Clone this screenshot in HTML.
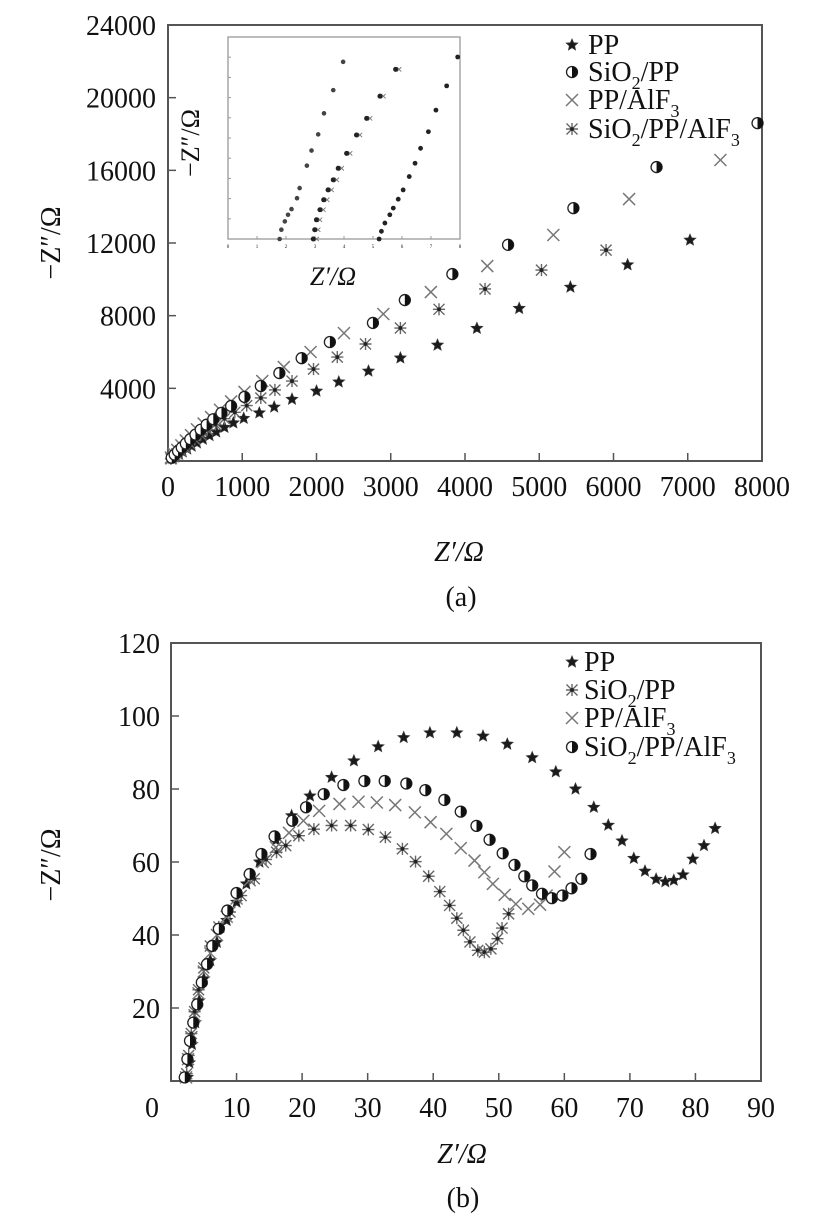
<!DOCTYPE html>
<html><head><meta charset="utf-8">
<style>
html,body{margin:0;padding:0;background:#fff;}
svg{display:block;}
text{font-family:"Liberation Serif",serif;fill:#111;}
</style></head>
<body>
<svg id="fig" width="829" height="1224" viewBox="0 0 829 1224" xmlns="http://www.w3.org/2000/svg">
<g id="pa"></g>
<g id="pb"></g>
</svg>
<script>
// ---------- Panel (a) data ----------
const aXTicks = [0,1000,2000,3000,4000,5000,6000,7000,8000];
const aYTicks = [4000,8000,12000,16000,20000,24000];
const aPPx = [60,100,150,200,260,320,390,470,560,650,760,880,1020,1230,1430,1670,2000,2300,2700,3130,3630,4160,4730,5420,6190,7030];
const aPPy = [130,240,370,500,660,820,1000,1200,1400,1600,1850,2100,2350,2650,2970,3400,3850,4350,4950,5670,6380,7300,8400,9570,10800,12160];
const aSPx = [50,90,135,185,240,300,370,440,520,610,720,850,1030,1250,1500,1800,2180,2760,3190,3830,4580,5460,6580,7940];
const aSPy = [180,350,540,740,960,1200,1450,1720,2000,2300,2650,3030,3530,4130,4840,5660,6550,7600,8860,10290,11900,13920,16180,18600];
const aPAx = [40,80,125,180,240,310,390,480,580,700,850,1030,1270,1560,1920,2370,2900,3540,4300,5190,6210,7440];
const aPAy = [190,390,610,860,1130,1420,1740,2060,2420,2820,3280,3800,4400,5170,6000,7040,8090,9300,10730,12440,14420,16570];
const aSPAx = [40,75,120,170,225,290,360,440,530,640,760,900,1060,1250,1440,1670,1960,2280,2660,3130,3650,4270,5030,5900];
const aSPAy = [120,240,400,570,760,970,1200,1450,1720,2010,2330,2680,3050,3470,3910,4400,5060,5720,6440,7320,8350,9470,10510,11610];
// inset data (inset axis units)
const inXTicks = [0,1,2,3,4,5,6,7,8];
const inYTicks = [0,1,2,3,4,5,6,7,8,9,10];
const in1x = [1.78,1.84,1.96,2.07,2.19,2.38,2.47,2.72,2.88,3.11,3.31,3.63,3.97];
const in1y = [0,0.46,0.87,1.2,1.48,2.02,2.52,3.63,4.38,5.18,6.22,7.37,8.77];
const in2x = [2.94,2.99,3.05,3.17,3.30,3.45,3.63,3.80,4.09,4.43,4.78,5.24,5.78];
const in2y = [0,0.46,0.95,1.45,1.94,2.43,2.93,3.5,4.24,5.15,5.97,7.07,8.4];
const in3x = [5.21,5.29,5.41,5.58,5.70,5.87,6.04,6.25,6.45,6.64,6.91,7.17,7.54,7.92];
const in3y = [0,0.38,0.79,1.2,1.53,1.97,2.43,3.09,3.75,4.49,5.31,6.38,7.58,9.01];
// ---------- Panel (b) data ----------
const bXTicks = [0,10,20,30,40,50,60,70,80,90];
const bYTicks = [20,40,60,80,100,120];
const bPPx = [2.5,2.8,3.2,3.7,4.3,5,6,7,8.5,10,11.5,13.5,16,18.4,21.2,24.5,27.9,31.6,35.5,39.5,43.6,47.6,51.3,55.1,58.7,61.7,64.5,66.7,68.8,70.6,72.3,74.0,75.4,76.7,78.1,79.6,81.3,83.0];
const bPPy = [1,5,10,16,22,28,33,38,44,49,54,60,66,72.7,78.1,83.2,87.7,91.6,94.1,95.4,95.4,94.5,92.3,88.6,84.7,80,75,70.1,65.8,61,57.5,55.3,54.6,55,56.5,60.8,64.5,69.2];
const bSPx = [2.4,2.7,3.1,3.6,4.2,5,6,7.3,9,10.7,12.7,14.5,16.1,17.5,19.5,21.8,24.5,27.4,30.1,32.7,35.3,37.3,39.3,41,42.5,43.6,44.6,45.6,46.8,47.8,48.8,49.8,50.5,51.5];
const bSPy = [2,7,13,19,25,31,37,42.2,46.3,50.8,55.4,60.7,62.7,64.5,67.2,69,70,70,68.9,66.8,63.6,60.1,56.1,51.9,48.1,44.6,41.3,38.1,35.8,35.3,36.2,39,41.9,45.8];
const bPAx = [2.3,2.6,3.1,3.6,4.2,5,6,7,8.5,10,12,14,16,18,20.2,22.6,25.7,28.6,31.4,34.2,37.2,39.6,42,44.2,46.3,47.8,49.1,50.9,52.6,54.5,56.3,57.3,58.5,60];
const bPAy = [1,6,12,18,24,30,35,40,45,50,55,60,64,68,71.3,74,75.9,76.5,76.3,75.6,73.6,70.9,67.7,63.8,60.4,57.2,54,51,48.5,47.2,48.3,50.8,57.4,62.7];
const bSPAx = [2.1,2.5,2.9,3.4,4,4.7,5.5,6.3,7.3,8.6,10,12,13.8,15.8,18.5,20.6,23.3,26.3,29.5,32.6,35.9,38.8,41.7,44.2,46.6,48.6,50.6,52.4,53.9,55.1,56.6,58.1,59.7,61.1,62.6,64];
const bSPAy = [1,6,11,16,21,27,32,37,41.7,46.7,51.5,56.7,62.2,67,71.3,75,78.6,81.1,82.2,82.2,81.5,79.7,77,73.8,69.9,66.1,62.4,59.2,56.1,53.6,51.3,50.1,50.8,52.8,55.4,62.2];

const NS = "http://www.w3.org/2000/svg";
function mk(parent, tag, attrs, txt){
  const e = document.createElementNS(NS, tag);
  for (const k in attrs) e.setAttribute(k, attrs[k]);
  if (txt !== undefined) e.textContent = txt;
  parent.appendChild(e); return e;
}
function star(g, x, y, s){
  let p=[];
  for(let i=0;i<10;i++){const r=i%2?s*0.45:s;const a=-Math.PI/2+i*Math.PI/5;p.push((x+r*Math.cos(a)).toFixed(1)+","+(y+r*Math.sin(a)).toFixed(1));}
  return mk(g,"polygon",{points:p.join(" "),fill:"#1a1a1a",stroke:"#333","stroke-width":0.8});
}
function half(g, x, y, r){
  const h = mk(g,"g",{});
  mk(h,"circle",{cx:x,cy:y,r:r,fill:"#fff",stroke:"#222","stroke-width":1.3});
  mk(h,"path",{d:`M${x},${y-r} A${r},${r} 0 0 1 ${x},${y+r} Z`,fill:"#111"});
  return h;
}
function cross(g, x, y, s){
  return mk(g,"path",{d:`M${x-s},${y-s}L${x+s},${y+s}M${x-s},${y+s}L${x+s},${y-s}`,stroke:"#777","stroke-width":1.5,fill:"none"});
}
function aster(g, x, y, s){
  const h = mk(g,"g",{});
  mk(h,"path",{d:`M${x-s},${y-s}L${x+s},${y+s}M${x-s},${y+s}L${x+s},${y-s}M${x},${y-s*1.1}L${x},${y+s*1.1}M${x-s*1.1},${y}L${x+s*1.1},${y}`,stroke:"#666","stroke-width":1.4,fill:"none"});
  mk(h,"circle",{cx:x,cy:y,r:s*0.35,fill:"#222"});
  return h;
}

// ---------- Panel (a) ----------
const pa = document.getElementById("pa");
const aL=168, aR=762, aT=25, aB=461;
const ax = v => aL + (v-0)/8000*(aR-aL);
const ay = v => aB - v/24000*(aB-aT);
let fr = mk(pa,"rect",{x:aL,y:aT,width:aR-aL,height:aB-aT,fill:"none",stroke:"#555","stroke-width":2});


aXTicks.forEach(t=>{
  if(t>0&&t<8000) mk(pa,"line",{x1:ax(t),x2:ax(t),y1:aB,y2:aB-8,stroke:"#555","stroke-width":1.5});
  const tx = mk(pa,"text",{x:ax(t),y:496,"font-size":28,"text-anchor":"middle"},String(t));
  
  
});
aYTicks.forEach(t=>{
  if(t<24000) mk(pa,"line",{x1:aL,x2:aL+8,y1:ay(t),y2:ay(t),stroke:"#555","stroke-width":1.5});
  const tx = mk(pa,"text",{x:156,y:ay(t)+10,"font-size":28,"text-anchor":"end"},String(t));
  
  
});
// inset
const iL=228, iR=460, iT=37, iB=239;
const ix = v => iL + v/8*(iR-iL);
const iy = v => iB - v/10*(iB-iT);
const ins = mk(pa,"g",{});


mk(ins,"rect",{x:iL,y:iT,width:iR-iL,height:iB-iT,fill:"#fff",stroke:"#999","stroke-width":1.3});
inXTicks.forEach(t=>{mk(ins,"line",{x1:ix(t),x2:ix(t),y1:iB,y2:iB-3,stroke:"#999"});mk(ins,"text",{x:ix(t),y:iB+9,"font-size":5,"text-anchor":"middle",fill:"#888"},String(t));});
inYTicks.forEach(t=>{mk(ins,"line",{x1:iL,x2:iL+3,y1:iy(t),y2:iy(t),stroke:"#999"});});
in1x.forEach((v,i)=>{const c=mk(ins,"circle",{cx:ix(v),cy:iy(in1y[i]),r:2.3,fill:"#444"});

});
in2x.forEach((v,i)=>{cross(ins,ix(v+0.12),iy(in2y[i]),2.2).setAttribute('stroke-width',0.9);
const c=mk(ins,"circle",{cx:ix(v),cy:iy(in2y[i]),r:2.5,fill:"#222"});

});
in3x.forEach((v,i)=>{const c=mk(ins,"circle",{cx:ix(v),cy:iy(in3y[i]),r:2.4,fill:"#222"});

});
let t1=mk(pa,"text",{x:333,y:285,"font-size":26,"text-anchor":"middle"},"Z′/Ω");
t1.setAttribute('font-style','italic');


let t2=mk(pa,"text",{x:0,y:0,"font-size":26,"text-anchor":"middle",transform:"translate(199,143) rotate(-90)"},"−Z″/Ω");


aPPx.forEach((v,i)=>{const m=star(pa,ax(v),ay(aPPy[i]),6);

});
aSPAx.forEach((v,i)=>{const m=aster(pa,ax(v),ay(aSPAy[i]),5.5);

});
aPAx.forEach((v,i)=>{const m=cross(pa,ax(v),ay(aPAy[i]),6);

});
aSPx.forEach((v,i)=>{const m=half(pa,ax(v),ay(aSPy[i]),5.5);

});
const legA = mk(pa,"g",{});


star(legA,572,45,6); half(legA,572,72,5.5); cross(legA,572,100,6); aster(legA,572,129,5.5);
mk(legA,"text",{x:588,y:54,"font-size":28},"PP");
mk(legA,"text",{x:588,y:81,"font-size":28}).innerHTML='SiO<tspan font-size="18" dy="8">2</tspan><tspan dy="-8">/PP</tspan>';
mk(legA,"text",{x:588,y:109,"font-size":28}).innerHTML='PP/AlF<tspan font-size="18" dy="8">3</tspan>';
mk(legA,"text",{x:588,y:138,"font-size":28}).innerHTML='SiO<tspan font-size="18" dy="8">2</tspan><tspan dy="-8">/PP/AlF</tspan><tspan font-size="18" dy="8">3</tspan>';
let ya=mk(pa,"text",{x:0,y:0,"font-size":28,"text-anchor":"middle",transform:"translate(60,243) rotate(-90)"},"−Z″/Ω");


let xa=mk(pa,"text",{x:459,y:561,"font-size":28,"text-anchor":"middle","font-style":"italic"},"Z′/Ω");


let ca=mk(pa,"text",{x:461,y:606,"font-size":28,"text-anchor":"middle"},"(a)");



// ---------- Panel (b) ----------
const pb = document.getElementById("pb");
const bL=171, bR=761, bT=643, bB=1081;
const bx = v => bL + v/90*(bR-bL);
const by = v => bB - v/120*(bB-bT);
let frb = mk(pb,"rect",{x:bL,y:bT,width:bR-bL,height:bB-bT,fill:"none",stroke:"#555","stroke-width":2});


bXTicks.forEach(t=>{
  if(t>0&&t<90) mk(pb,"line",{x1:bx(t),x2:bx(t),y1:bB,y2:bB-8,stroke:"#555","stroke-width":1.5});
  const tx=mk(pb,"text",{x:t===0?152:bx(t),y:1117,"font-size":28,"text-anchor":"middle"},String(t));
  
  
});
bYTicks.forEach(t=>{
  if(t<120) mk(pb,"line",{x1:bL,x2:bL+8,y1:by(t),y2:by(t),stroke:"#555","stroke-width":1.5});
  const tx=mk(pb,"text",{x:160,y:by(t)+10,"font-size":28,"text-anchor":"end"},String(t));
  
  
});
bPPx.forEach((v,i)=>{const m=star(pb,bx(v),by(bPPy[i]),6);

});
bPAx.forEach((v,i)=>{const m=cross(pb,bx(v),by(bPAy[i]),6);

});
bSPx.forEach((v,i)=>{const m=aster(pb,bx(v),by(bSPy[i]),5.5);

});
bSPAx.forEach((v,i)=>{const m=half(pb,bx(v),by(bSPAy[i]),5.5);

});
const legB = mk(pb,"g",{});


star(legB,572,662,6); aster(legB,572,690,5.5); cross(legB,572,718,6); half(legB,572,747,5.5);
mk(legB,"text",{x:584,y:671,"font-size":28},"PP");
mk(legB,"text",{x:584,y:699,"font-size":28}).innerHTML='SiO<tspan font-size="18" dy="8">2</tspan><tspan dy="-8">/PP</tspan>';
mk(legB,"text",{x:584,y:727,"font-size":28}).innerHTML='PP/AlF<tspan font-size="18" dy="8">3</tspan>';
mk(legB,"text",{x:584,y:756,"font-size":28}).innerHTML='SiO<tspan font-size="18" dy="8">2</tspan><tspan dy="-8">/PP/AlF</tspan><tspan font-size="18" dy="8">3</tspan>';
let yb=mk(pb,"text",{x:0,y:0,"font-size":28,"text-anchor":"middle",transform:"translate(60,865) rotate(-90)"},"−Z″/Ω");


let xb=mk(pb,"text",{x:462,y:1163,"font-size":28,"text-anchor":"middle","font-style":"italic"},"Z′/Ω");


let cb=mk(pb,"text",{x:463,y:1207,"font-size":28,"text-anchor":"middle"},"(b)");


</script>
</body></html>
